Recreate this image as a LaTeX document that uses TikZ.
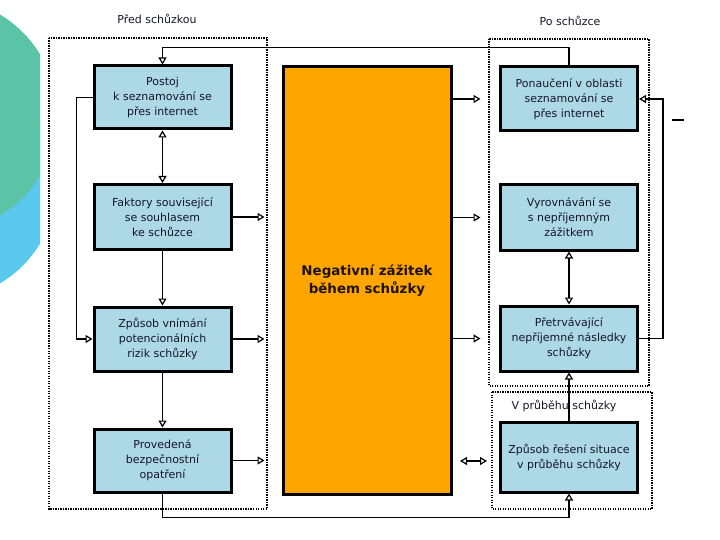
\documentclass[tikz,border=0pt]{standalone}
\usepackage{fontspec}
\setmainfont{DejaVu Sans}
\usetikzlibrary{arrows.meta,calc}
\definecolor{boxblue}{RGB}{173,216,230}
\definecolor{boxorange}{RGB}{255,165,0}
\definecolor{decoteal}{RGB}{91,196,166}
\definecolor{decoblue}{RGB}{91,200,238}
\definecolor{txt}{RGB}{20,22,40}
\tikzset{
  bluebox/.style={draw=black, line width=3pt, fill=boxblue, minimum width=137pt, align=center,
    font=\fontsize{11}{15}\selectfont, text=txt, inner sep=2pt},
  orangebox/.style={draw=black, line width=3pt, fill=boxorange, minimum width=168pt, minimum height=427pt,
    align=center, font=\fontsize{13.4}{17.5}\selectfont\bfseries, text=black!85!brown},
  conn/.style={line width=1.3pt, draw=black},
  arr/.style={conn, -{Triangle[open, length=7pt, width=8pt, line width=1.2pt]}},
  darr/.style={conn, {Triangle[open, length=7pt, width=8pt, line width=1.2pt]}-{Triangle[open, length=7pt, width=8pt, line width=1.2pt]}},
  dotbox/.style={draw=black, line width=1.7pt, dash pattern=on 1.4pt off 1.1pt},
  grouplabel/.style={font=\fontsize{11}{13}\selectfont, text=txt}
}
\begin{document}
\begin{tikzpicture}[x=1pt, y=-1pt]
\useasboundingbox (0,0) rectangle (720,540);
% decoration
\begin{scope}
  \clip (0,0) rectangle (40,540);
  \fill[decoblue] (-60,183) circle (117);
  \fill[decoteal] (-60,115) circle (117);
\end{scope}
% group frames
\draw[dotbox] (49,38) rectangle (267,509);
\draw[dotbox] (489,39) rectangle (649,386);
\draw[dotbox] (492,392) rectangle (652,509);
\node[grouplabel] (lpre) at (157,19) {Před schůzkou};
\node[grouplabel] (lpost) at (570,21) {Po schůzce};
\node[grouplabel] (ldur) at (564,406) {V průběhu schůzky};
% left column
\node[bluebox, minimum height=63pt] (L1) at (162.5,97.5) {Postoj\\k seznamování se\\přes internet};
\node[bluebox, minimum height=65pt] (L2) at (162.5,217) {Faktory související\\se souhlasem\\ke schůzce};
\node[bluebox, minimum height=64pt] (L3) at (162.5,339) {Způsob vnímání\\potencionálních\\rizik schůzky};
\node[bluebox, minimum height=63pt] (L4) at (162.5,460.5) {Provedená\\bezpečnostní\\opatření};
% center
\node[orangebox] (O) at (367,280.5) {Negativní zážitek\\během schůzky};
% right column
\node[bluebox, minimum height=64pt] (R1) at (569,99) {Ponaučení v oblasti\\seznamování se\\přes internet};
\node[bluebox, minimum height=65pt] (R2) at (569,217.5) {Vyrovnávání se\\s nepříjemným\\zážitkem};
\node[bluebox, minimum height=65pt] (R3) at (569,338.5) {Přetrvávající\\nepříjemné následky\\schůzky};
\node[bluebox, minimum height=70pt] (R4) at (569,457) {Způsob řešení situace\\v průběhu schůzky};
% connectors left
\draw[arr] (R1.north) -- ++(0,-18) -| (L1.north);
\draw[darr] (L1.south) -- (L2.north);
\draw[arr] (L2.south) -- (L3.north);
\draw[arr] (L3.south) -- (L4.north);
\draw[arr] (L1.west) -- ++(-16,0) |- (L3.west);
\draw[arr] (L2.east) -- ++(32,0);
\draw[arr] (L3.east) -- ++(32,0);
\draw[arr] (L4.east) -- ++(32,0);
\draw[arr] (L4.south) -- ++(0,24) -| (R4.south);
% connectors from center
\draw[arr] (O.east |- R1.west) -- ++(28,0);
\draw[arr] (O.east |- R2.west) -- ++(28,0);
\draw[arr] (O.east |- R3.west) -- ++(28,0);
\coordinate (da1) at (460,461);
\coordinate (da2) at (487,461);
\draw[darr] (da1) -- (da2);
% connectors right
\draw[arr] (R4.north) -- (R3.south);
\draw[darr] (R2.south) -- (R3.north);
\draw[arr] (R3.east) -- ++(24,0) |- (R1.east);
% stray dash
\coordinate (sd1) at (672,120);
\coordinate (sd2) at (684,120);
\draw[line width=2pt] (sd1) -- (sd2);
\end{tikzpicture}
\end{document}
